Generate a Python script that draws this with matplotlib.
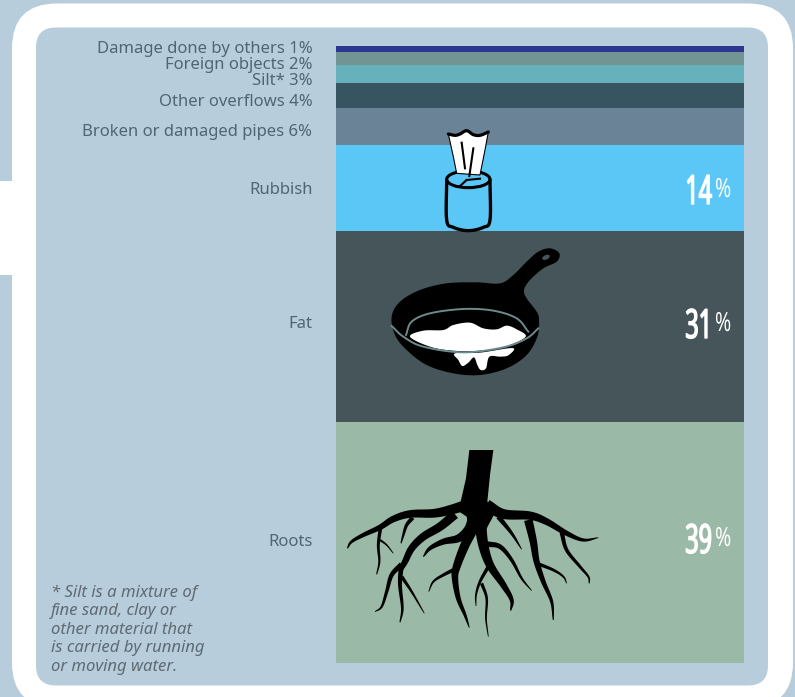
import matplotlib
matplotlib.use('Agg')
import matplotlib.pyplot as plt
from matplotlib.patches import FancyBboxPatch, Polygon, Rectangle, Ellipse
from matplotlib.patheffects import AbstractPathEffect
from matplotlib.transforms import Affine2D
import numpy as np

categorias = ['Damage done by others', 'Foreign objects', 'Silt*', 'Other overflows',
              'Broken or damaged pipes', 'Rubbish', 'Fat', 'Roots']
valores = [1, 2, 3, 4, 6, 14, 31, 39]
cores = ['#2e3790', '#729492', '#66b1bc', '#375560', '#6a8397', '#5bc7f7', '#455559', '#9bb9a7']
mostra_valor_na_esquerda = [True, True, True, True, True, False, False, False]
nota = ['* Silt is a mixture of', 'fine sand, clay or', 'other material that',
        'is carried by running', 'or moving water.']

FUNDO = '#b7cddc'
TEXTO = '#4f6672'
W, H = 795, 697


class Estreita(AbstractPathEffect):
    # aperta o texto na horizontal em torno de x = ancora (pixels); lw engrossa o traço
    def __init__(self, fator, ancora, lw=0):
        super().__init__()
        self.fator = fator
        self.ancora = ancora
        self.lw = lw

    def draw_path(self, renderer, gc, tpath, affine, rgbFace=None):
        aperto = Affine2D().translate(-self.ancora, 0).scale(self.fator, 1).translate(self.ancora, 0)
        gc0 = renderer.new_gc()
        gc0.copy_properties(gc)
        if self.lw:
            gc0.set_linewidth(self.lw)
            gc0.set_foreground('white')
        renderer.draw_path(gc0, tpath, affine + aperto, rgbFace)
        gc0.restore()


fig = plt.figure(figsize=(W / 100, H / 100), dpi=100, facecolor=FUNDO)

# camada de fundo em pixels
bg = fig.add_axes([0, 0, 1, 1], zorder=0)
bg.set_xlim(0, W)
bg.set_ylim(H, 0)
bg.axis('off')
bg.add_patch(FancyBboxPatch((12 + 45, 3.5 + 45), 781 - 90, 704 - 90,
                            boxstyle='round,pad=45,rounding_size=45', fc='white', ec='none'))
bg.add_patch(Rectangle((0, 181), 14, 94, fc='white', ec='none'))
bg.add_patch(FancyBboxPatch((36 + 20, 27.5 + 20), 732 - 40, 658 - 40,
                            boxstyle='round,pad=20,rounding_size=20', fc=FUNDO, ec='none'))

# barra empilhada
ax = fig.add_axes([336 / W, 1 - 663 / H, 408 / W, 617 / H], zorder=1)
base = 0
for v, c in zip(valores, cores):
    ax.bar(0, v, bottom=base, width=1, color=c, linewidth=0)
    base += v
ax.set_xlim(-0.5, 0.5)
ax.set_ylim(sum(valores), 0)
ax.axis('off')

# camada de cima, rótulos e desenhos
top = fig.add_axes([0, 0, 1, 1], zorder=2)
top.set_xlim(0, W)
top.set_ylim(H, 0)
top.axis('off')
top.patch.set_alpha(0)

rotulo_y = [49, 65, 81, 101.5, 131.5, 189.5, 323.5, 542.5]
for nome, v, y, esq in zip(categorias, valores, rotulo_y, mostra_valor_na_esquerda):
    txt = f'{nome} {v}%' if esq else nome
    top.text(312.5, y, txt, ha='right', va='center', fontsize=12, color=TEXTO,
             family='Noto Sans')

# números grandes e estreitos dentro das faixas
num_base = [204, 338, 553]
for v, y in zip(valores[5:], num_base):
    top.text(712, y, str(v), ha='right', va='baseline', fontsize=29, color='white',
             family='Noto Sans', path_effects=[Estreita(0.58, 712, lw=1.0)])
    top.text(715, y - 7, '%', ha='left', va='baseline', fontsize=19, color='white',
             family='Noto Sans', path_effects=[Estreita(0.74, 715)])

for i, linha in enumerate(nota):
    top.text(51, 592.5 + i * 18.6, linha, ha='left', va='center', fontsize=12, style='italic',
             color='#5f6a72', family='Noto Sans')


def suave(pts, fechado=False, n=14):
    # spline de catmull-rom só para arredondar os contornos
    p = np.array(pts, dtype=float)
    if fechado:
        p = np.vstack([p[-1], p, p[0], p[1]])
    else:
        p = np.vstack([2 * p[0] - p[1], p, 2 * p[-1] - p[-2]])
    out = []
    t = np.linspace(0, 1, n, endpoint=False)[:, None]
    for i in range(1, len(p) - 2):
        a, b, c, d = p[i - 1], p[i], p[i + 1], p[i + 2]
        out.append(0.5 * (2 * b + (c - a) * t + (2 * a - 5 * b + 4 * c - d) * t ** 2
                          + (3 * b - a - 3 * c + d) * t ** 3))
    out = np.vstack(out)
    if not fechado:
        out = np.vstack([out, p[-2]])
    return out


def galho(pts, w0, w1, ox, oy, esc=3.0, cor='black'):
    # traço que afina do início ao fim
    c = suave(pts)
    d = np.gradient(c, axis=0)
    d /= np.maximum(np.linalg.norm(d, axis=1, keepdims=True), 1e-6)
    nrm = np.column_stack([-d[:, 1], d[:, 0]])
    s = np.linspace(0, 1, len(c))
    larg = (w1 + (w0 - w1) * (1 - s) ** 0.8)[:, None] / 2
    poly = np.vstack([c + nrm * larg, (c - nrm * larg)[::-1]])
    top.add_patch(Polygon(poly / esc + [ox, oy], fc=cor, ec='none', zorder=3))


# raízes
RX, RY = 340, 445
tronco = [(388, 15), (460, 15), (450, 90), (442, 170), (470, 195), (448, 235), (430, 270),
          (405, 265), (384, 238), (380, 215), (358, 200), (345, 185), (362, 170), (378, 100)]
top.add_patch(Polygon(np.array(tronco) / 3 + [RX, RY], fc='black', ec='none', zorder=3))
raizes = [
    ([(385, 178), (330, 195), (280, 205), (210, 207), (160, 222), (120, 247), (70, 270), (35, 290), (22, 310)], 32, 3),
    ([(122, 245), (115, 300), (118, 350), (110, 388)], 11, 3),
    ([(120, 285), (140, 300), (160, 325)], 7, 2),
    ([(218, 218), (200, 240), (190, 270), (183, 295)], 13, 3),
    ([(345, 208), (300, 245), (250, 275), (215, 310), (195, 350), (180, 375)], 28, 15),
    ([(185, 358), (155, 390), (140, 440), (125, 485), (105, 500)], 16, 2),
    ([(183, 370), (180, 420), (187, 490), (180, 532)], 15, 3),
    ([(185, 395), (215, 440), (253, 505)], 11, 2),
    ([(400, 225), (385, 255), (355, 280), (310, 290), (270, 310), (250, 335)], 34, 3),
    ([(405, 240), (375, 300), (350, 365), (345, 400), (355, 460), (375, 510), (388, 548)], 32, 2),
    ([(350, 370), (310, 390), (280, 410), (266, 440)], 12, 2),
    ([(420, 230), (430, 300), (450, 360), (490, 420), (515, 465), (512, 497)], 36, 3),
    ([(440, 297), (480, 305), (515, 345), (545, 400), (575, 437)], 17, 2),
    ([(445, 365), (420, 410), (408, 450), (408, 483)], 11, 2),
    ([(425, 415), (440, 460), (438, 520), (445, 575)], 10, 2),
    ([(440, 180), (490, 207), (570, 212), (620, 230), (680, 265), (730, 285), (775, 278)], 34, 2),
    ([(475, 215), (515, 265), (545, 313)], 15, 2),
    ([(565, 225), (580, 290), (590, 350), (610, 410), (635, 470), (640, 525)], 26, 3),
    ([(590, 355), (640, 375), (670, 395), (680, 415)], 11, 2),
    ([(665, 262), (680, 315), (720, 365), (745, 395), (748, 415)], 13, 3),
]
for pts, w0, w1 in raizes:
    galho(pts, w0, w1, RX, RY)

# frigideira
PX, PY = 380, 240
corpo = [(35, 230), (60, 185), (120, 150), (200, 130), (290, 127), (360, 130), (400, 105),
         (440, 65), (475, 35), (510, 25), (538, 40), (530, 65), (490, 85), (450, 120),
         (432, 150), (440, 175), (470, 215), (477, 240), (472, 290), (440, 345), (380, 385),
         (300, 405), (220, 400), (140, 375), (80, 330), (45, 285)]
top.add_patch(Polygon(suave(corpo, fechado=True) / 3 + [PX, PY], fc='black', ec='none', zorder=3))
gordura = [(90, 290), (130, 272), (190, 270), (220, 255), (270, 248), (310, 265), (350, 268),
           (380, 257), (410, 268), (437, 290), (380, 318), (300, 332), (220, 332), (150, 320)]
top.add_patch(Polygon(suave(gordura, fechado=True) / 3 + [PX, PY], fc='white', ec='none', zorder=4))
pingo = [(225, 340), (235, 360), (247, 378), (265, 368), (282, 352), (292, 375), (302, 390),
         (318, 385), (328, 350), (360, 350), (385, 346), (398, 324), (300, 338)]
top.add_patch(Polygon(suave(pingo, fechado=True, n=6) / 3 + [PX, PY], fc='white', ec='none', zorder=4))
aro = suave([(78, 285), (95, 245), (150, 220), (250, 207), (340, 212), (410, 235), (445, 275)]) / 3 + [PX, PY]
top.plot(aro[:, 0], aro[:, 1], color='#6d8a8c', lw=1.4, zorder=5)
frente = suave([(35, 258), (70, 290), (130, 320), (250, 337), (370, 322), (440, 295), (475, 265)]) / 3 + [PX, PY]
top.plot(frente[:, 0], frente[:, 1], color='#6d8a8c', lw=1.4, zorder=5)
top.add_patch(Ellipse((PX + 498 / 3, PY + 52 / 3), 8, 4.5, angle=-25, fc='#455559', ec='none', zorder=5))

# caixa de lenços
TX, TY = 430, 120
lado = suave([(50, 180), (50, 300), (70, 322), (115, 332), (160, 322), (180, 300), (180, 180)], n=8) / 3 + [TX, TY]
top.plot(lado[:, 0], lado[:, 1], color='black', lw=2.4, zorder=3, solid_capstyle='round')
boca = Ellipse((TX + 115 / 3, TY + 178 / 3), 130 / 3, 50 / 3, fc='none', ec='black', lw=2.2, zorder=3)
top.add_patch(boca)
top.plot([TX + 88 / 3, TX + 110 / 3], [TY + 200 / 3, TY + 180 / 3], color='black', lw=1.5, zorder=3)
top.plot([TX + 110 / 3, TX + 150 / 3], [TY + 180 / 3, TY + 176 / 3], color='black', lw=1.5, zorder=3)
borda = suave([(55, 42), (75, 46), (90, 42), (110, 32), (130, 44), (150, 46), (175, 36)], n=8)
lenco = np.vstack([borda, [(165, 90), (150, 165), (80, 160), (70, 110)]])
top.add_patch(Polygon(lenco / 3 + [TX, TY], fc='white', ec='black', lw=0.8, zorder=4))
borda = borda / 3 + [TX, TY]
top.plot(borda[:, 0], borda[:, 1], color='black', lw=2.3, zorder=5, solid_capstyle='round')
top.plot([TX + 95 / 3, TX + 105 / 3], [TY + 68 / 3, TY + 145 / 3], color='black', lw=1.5, zorder=5)
top.plot([TX + 130 / 3, TX + 118 / 3], [TY + 85 / 3, TY + 168 / 3], color='black', lw=1.5, zorder=5)

fig.savefig('out.png', dpi=100, facecolor=FUNDO)
